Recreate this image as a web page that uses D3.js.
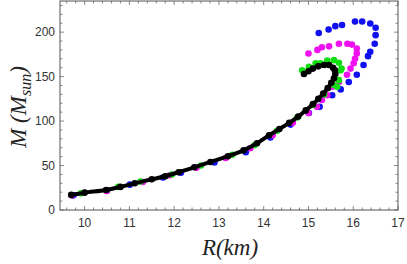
<!DOCTYPE html>
<html>
<head>
<meta charset="utf-8">
<script src="https://cdn.jsdelivr.net/npm/d3@7"></script>
<style>
  body { margin: 0; background: #fff; }
  svg { display: block; }
  .tick-label { font-family: "Liberation Sans", Arial, sans-serif; font-size: 12px; fill: #333; }
  .axis-title { font-family: "Liberation Serif", "Times New Roman", serif; font-style: italic; fill: #222; }
</style>
</head>
<body>
<svg width="407" height="264"></svg>
<script>
// R (km) and M (M_sun) for each sequence
var blueR = [9.75, 10.5, 11.01, 11.75, 12.15, 12.9, 13.6, 14.15, 14.6, 15.01, 15.25, 15.53, 15.72, 15.9, 16.08, 16.23, 16.33, 16.38, 16.48, 16.5, 16.5, 16.38, 16.2, 16.04, 15.75, 15.6, 15.45, 15.23];
var blueM = [16.5, 22, 28.5, 36.5, 42, 53.5, 65, 81.5, 96, 109, 116, 129, 135.6, 144, 152, 163, 173, 178, 187, 196.6, 205, 209.7, 212, 212, 208, 206.7, 203, 199];

var magR = [9.72, 10.49, 11.3, 11.9, 12.5, 13.15, 13.7, 14.2, 14.65, 15.0, 15.19, 15.3, 15.42, 15.53, 15.68, 15.86, 15.94, 16.01, 16.04, 16.08, 16.08, 15.97, 15.87, 15.68, 15.46, 15.3, 15.2, 15.0];
var magM = [16.5, 21.5, 31.5, 39, 47.5, 58.5, 69.5, 84, 98, 109, 116, 123.6, 129, 138.5, 144, 152, 159, 165, 170, 176, 181.6, 186, 187, 187, 184, 183, 180, 176];

var greenR = [9.92, 10.75, 11.25, 11.95, 12.6, 13.3, 13.8, 14.3, 14.75, 15.1, 15.35, 15.55, 15.64, 15.68, 15.72, 15.74, 15.68, 15.57, 15.42, 15.27, 15.16, 15.01, 14.86];
var greenM = [18.7, 26, 32, 40, 50, 62, 73, 89, 104, 118, 130, 141, 138.5, 146, 157, 159, 165.5, 168.5, 168, 165, 165, 161, 157];

var blackR = [9.7, 10.0, 10.48, 10.8, 11.12, 11.5, 11.8, 12.1, 12.45, 12.81, 13.2, 13.55, 13.85, 14.12, 14.35, 14.57, 14.77, 14.94, 15.1, 15.22, 15.33, 15.43, 15.51, 15.57, 15.6, 15.59, 15.55, 15.46, 15.35, 15.22, 15.1, 15.0, 14.9];
var blackM = [17, 19.5, 22.5, 26, 30, 34.5, 38, 42.5, 48, 54, 60.5, 67, 75, 84, 91, 98, 105, 112, 119, 125, 131, 137, 143, 148, 153, 157, 160, 163, 163, 161.5, 159, 156, 153];

var xTicks = [10, 11, 12, 13, 14, 15, 16, 17];
var yTicks = [0, 50, 100, 150, 200];

var svg = d3.select('svg');
var pLeft = 60, pRight = 398, pTop = 1, pBottom = 210;

var x = d3.scaleLinear().domain([9.45, 17]).range([pLeft, pRight]);
var y = d3.scaleLinear().domain([0, 235]).range([pBottom, pTop]);

// frame ticks (inward, all four sides)
var xMinor = d3.range(9.6, 17.001, 0.2);
var yMinor = d3.range(0, 235, 10);
var tickCol = '#888';

function isMajor(v, arr) { return arr.some(function(t) { return Math.abs(t - v) < 1e-6; }); }

svg.selectAll('.xt').data(xMinor).enter().append('line')
  .attr('x1', function(d) { return x(d); }).attr('x2', function(d) { return x(d); })
  .attr('y1', pBottom).attr('y2', function(d) { return pBottom - (isMajor(d, xTicks) ? 4 : 2.5); })
  .attr('stroke', tickCol);
svg.selectAll('.xtt').data(xMinor).enter().append('line')
  .attr('x1', function(d) { return x(d); }).attr('x2', function(d) { return x(d); })
  .attr('y1', pTop).attr('y2', function(d) { return pTop + (isMajor(d, xTicks) ? 4 : 2.5); })
  .attr('stroke', tickCol);
svg.selectAll('.yt').data(yMinor).enter().append('line')
  .attr('y1', function(d) { return y(d); }).attr('y2', function(d) { return y(d); })
  .attr('x1', pLeft).attr('x2', function(d) { return pLeft + (isMajor(d, yTicks) ? 4 : 2.5); })
  .attr('stroke', tickCol);
svg.selectAll('.ytr').data(yMinor).enter().append('line')
  .attr('y1', function(d) { return y(d); }).attr('y2', function(d) { return y(d); })
  .attr('x1', pRight).attr('x2', function(d) { return pRight - (isMajor(d, yTicks) ? 4 : 2.5); })
  .attr('stroke', tickCol);

svg.append('rect')
  .attr('x', pLeft).attr('y', pTop)
  .attr('width', pRight - pLeft).attr('height', pBottom - pTop)
  .attr('fill', 'none').attr('stroke', '#555').attr('stroke-width', 1);

svg.selectAll('.xl').data(xTicks).enter().append('text')
  .attr('class', 'tick-label')
  .attr('x', function(d) { return x(d); }).attr('y', 227)
  .attr('text-anchor', 'middle')
  .text(function(d) { return d; });
svg.selectAll('.yl').data(yTicks).enter().append('text')
  .attr('class', 'tick-label')
  .attr('x', 55).attr('y', function(d) { return y(d) + 4; })
  .attr('text-anchor', 'end')
  .text(function(d) { return d; });

// series
function series(R, M, col, r, lw) {
  var pts = R.map(function(d, i) { return [d, M[i]]; });
  if (lw) {
    svg.append('path')
      .attr('d', d3.line().x(function(d) { return x(d[0]); }).y(function(d) { return y(d[1]); }).curve(d3.curveCatmullRom)(pts))
      .attr('fill', 'none').attr('stroke', col).attr('stroke-width', lw);
  }
  svg.append('g').selectAll('circle').data(pts).enter().append('circle')
    .attr('cx', function(d) { return x(d[0]); })
    .attr('cy', function(d) { return y(d[1]); })
    .attr('r', r).attr('fill', col);
}
series(blueR, blueM, '#1010f0', 3.3, 0);
series(magR, magM, '#f010f0', 3.3, 0);
series(greenR, greenM, '#10e010', 3.3, 0);
series(blackR, blackM, '#000', 3.3, 4);

// axis titles
svg.append('text').attr('class', 'axis-title')
  .attr('x', 230).attr('y', 255).attr('text-anchor', 'middle')
  .attr('font-size', 23).text('R(km)');

var yt = svg.append('text').attr('class', 'axis-title')
  .attr('transform', 'translate(26,107) rotate(-90)')
  .attr('text-anchor', 'middle').attr('font-size', 23);
yt.append('tspan').text('M (M');
yt.append('tspan').attr('font-size', 16).attr('dy', 5).text('sun');
yt.append('tspan').attr('dy', -5).text(')');
</script>
</body>
</html>
